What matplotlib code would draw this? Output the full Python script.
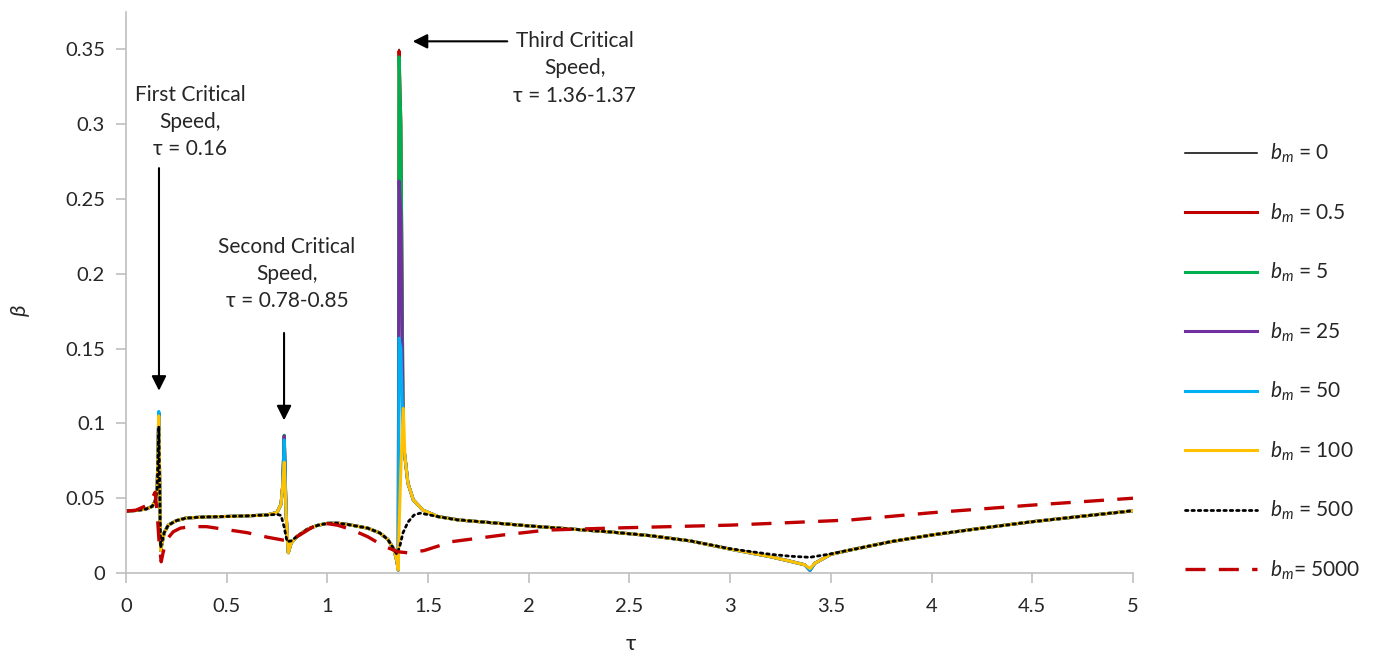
import matplotlib
matplotlib.use("Agg")
import matplotlib.pyplot as plt

# fonts: Lato first, fallbacks for greek glyphs
plt.rcParams["font.family"] = ["Lato", "Open Sans", "DejaVu Sans"]
plt.rcParams["mathtext.fontset"] = "custom"
plt.rcParams["mathtext.it"] = "Lato:italic"
plt.rcParams["mathtext.rm"] = "Lato"

# grid shared by the curves bm = 0 ... 100 (they coincide away from the resonances)
TAU_SHARED = [0.00, 0.05, 0.10, 0.13, 0.145, 0.155, 0.172, 0.19, 0.21, 0.25, 0.30,
              0.40, 0.50, 0.60, 0.70, 0.75, 0.77, 0.778, 0.795, 0.806, 0.82,
              0.85, 0.90, 0.95, 1.00, 1.05, 1.10, 1.20, 1.26, 1.30, 1.33,
              1.345, 1.352, 1.385, 1.40, 1.427, 1.475, 1.55, 1.65, 1.80, 2.00, 2.20,
              2.40, 2.60, 2.80, 3.00, 3.20, 3.30, 3.37, 3.42, 3.50, 3.60,
              3.80, 4.00, 4.25, 4.50, 4.75, 5.00]
B_SHARED = [0.0414, 0.0418, 0.0428, 0.0445, 0.048, 0.056, 0.015, 0.027, 0.032, 0.035, 0.0368,
            0.0375, 0.0378, 0.0382, 0.0388, 0.0405, 0.046, 0.058, 0.040, 0.0136, 0.020,
            0.0245, 0.0292, 0.0318, 0.0332, 0.0333, 0.0325, 0.0300, 0.0268, 0.0225, 0.016,
            0.008, 0.002, 0.078, 0.060, 0.0488, 0.042, 0.0377, 0.0355, 0.0338, 0.0315, 0.0295,
            0.0275, 0.0250, 0.0215, 0.0160, 0.0109, 0.0078, 0.0055, 0.0065, 0.0125, 0.0155,
            0.021, 0.0254, 0.030, 0.0343, 0.038, 0.0416]

# values at the resonance points, one list per bm
RES_TAU = [0.163, 0.786, 1.356, 1.365, 1.377, 3.396]
RES_B_0 = [0.107, 0.092, 0.350, 0.300, 0.085, 0.0018]
RES_B_05 = [0.107, 0.092, 0.349, 0.300, 0.085, 0.0018]
RES_B_5 = [0.107, 0.092, 0.345, 0.300, 0.085, 0.0018]
RES_B_25 = [0.107, 0.0915, 0.262, 0.240, 0.085, 0.0018]
RES_B_50 = [0.108, 0.089, 0.157, 0.150, 0.085, 0.0018]
RES_B_100 = [0.105, 0.074, 0.030, 0.070, 0.110, 0.003]

TAU_500 = [0.00, 0.05, 0.10, 0.13, 0.145, 0.155, 0.163, 0.172, 0.19, 0.21, 0.25,
           0.30, 0.40, 0.50, 0.60, 0.70, 0.75, 0.77, 0.785, 0.80, 0.82,
           0.85, 0.90, 0.95, 1.00, 1.05, 1.10, 1.20, 1.26, 1.30, 1.33,
           1.345, 1.36, 1.375, 1.40, 1.43, 1.46, 1.50, 1.55, 1.65, 1.80,
           2.00, 2.20, 2.40, 2.60, 2.80, 3.00, 3.20, 3.30, 3.396, 3.50,
           3.60, 3.80, 4.00, 4.25, 4.50, 4.75, 5.00]
B_500 = [0.0414, 0.0418, 0.0428, 0.0445, 0.048, 0.056, 0.098, 0.017, 0.027, 0.032, 0.035,
         0.0368, 0.0375, 0.0378, 0.0382, 0.0388, 0.0392, 0.0385, 0.031, 0.021, 0.0215,
         0.0245, 0.0292, 0.0318, 0.0332, 0.0333, 0.0325, 0.0300, 0.0268, 0.0225, 0.016,
         0.0125, 0.018, 0.0267, 0.034, 0.0387, 0.040, 0.039, 0.0377, 0.0355, 0.0338,
         0.0315, 0.0295, 0.0275, 0.0250, 0.0215, 0.0162, 0.0125, 0.0112, 0.0105, 0.0128,
         0.0155, 0.021, 0.0254, 0.030, 0.0343, 0.038, 0.0416]

TAU_5000 = [0.00, 0.05, 0.10, 0.13, 0.145, 0.155, 0.165, 0.175, 0.185, 0.20,
            0.235, 0.27, 0.32, 0.40, 0.50, 0.60, 0.70, 0.78, 0.82, 0.87,
            0.93, 1.00, 1.05, 1.12, 1.20, 1.28, 1.35, 1.40, 1.48, 1.62,
            1.87, 2.09, 2.40, 2.70, 3.00, 3.40, 3.60, 4.00, 4.50, 5.00]
B_5000 = [0.0414, 0.042, 0.045, 0.050, 0.054, 0.040, 0.020, 0.0075, 0.014, 0.022,
          0.0276, 0.030, 0.031, 0.031, 0.029, 0.027, 0.024, 0.022, 0.022, 0.026,
          0.031, 0.033, 0.032, 0.029, 0.0243, 0.018, 0.0142, 0.0135, 0.015, 0.021,
          0.0254, 0.0287, 0.030, 0.031, 0.032, 0.0343, 0.0355, 0.0403, 0.0454, 0.050]

BM_LABELS = ["0", "0.5", "5", "25", "50", "100", "500", "5000"]
COLORS = ["#000000", "#C00000", "#00B050", "#7030A0", "#00B0F0", "#FFC000", "#000000", "#C00000"]

GREY = "#BFBFBF"
TEXT = "#262626"


def merge_resonance(res_b):
    """Put the resonance values into the shared grid, sorted by tau."""
    pts = sorted(list(zip(TAU_SHARED, B_SHARED)) + list(zip(RES_TAU, res_b)))
    return [p[0] for p in pts], [p[1] for p in pts]


fig = plt.figure(figsize=(13.75, 6.56), dpi=100)
ax = fig.add_axes([0.0916, 0.1265, 0.7324, 0.8552])

res_lists = [RES_B_0, RES_B_05, RES_B_5, RES_B_25, RES_B_50, RES_B_100]
handles = []
for i, res_b in enumerate(res_lists):
    t, b = merge_resonance(res_b)
    lw = 1.1 if i == 0 else 2.2
    (h,) = ax.plot(t, b, color=COLORS[i], lw=lw, solid_joinstyle="round")
    handles.append(h)

(h,) = ax.plot(TAU_500, B_500, color=COLORS[6], lw=2.0, linestyle=(0, (0.9, 1.4)),
               dash_capstyle="round")
handles.append(h)
(h,) = ax.plot(TAU_5000, B_5000, color=COLORS[7], lw=2.4, linestyle=(0, (6.0, 4.0)))
handles.append(h)

labels = []
for i, bm in enumerate(BM_LABELS):
    if i == len(BM_LABELS) - 1:
        labels.append(r"$b_m$= " + bm)
    else:
        labels.append(r"$b_m$ = " + bm)

ax.set_xlim(0, 5)
ax.set_ylim(0, 0.375)
ax.set_xticks([0, 0.5, 1, 1.5, 2, 2.5, 3, 3.5, 4, 4.5, 5])
ax.set_xticklabels(["0", "0.5", "1", "1.5", "2", "2.5", "3", "3.5", "4", "4.5", "5"])
ax.set_yticks([0, 0.05, 0.1, 0.15, 0.2, 0.25, 0.3, 0.35])
ax.set_yticklabels(["0", "0.05", "0.1", "0.15", "0.2", "0.25", "0.3", "0.35"])

for side in ["top", "right"]:
    ax.spines[side].set_visible(False)
for side in ["left", "bottom"]:
    ax.spines[side].set_color(GREY)
    ax.spines[side].set_linewidth(1.2)
ax.tick_params(axis="both", direction="out", length=7, width=1.2, color=GREY,
               labelsize=14.5, labelcolor=TEXT)
ax.tick_params(axis="x", pad=11)
ax.tick_params(axis="y", pad=8)

ax.set_xlabel("τ", fontsize=16, color=TEXT)
ax.xaxis.set_label_coords(0.501, -0.108)
ax.set_ylabel("β", fontsize=16, color=TEXT, style="italic")
ax.yaxis.set_label_coords(-0.0953, 0.469)

# critical speed annotations
arrow = dict(arrowstyle="-|>", color="black", lw=1.5, mutation_scale=22)
note = dict(ha="center", va="center", fontsize=15, color=TEXT, linespacing=1.45)

ax.annotate("", xy=(0.164, 0.120), xytext=(0.164, 0.2725), arrowprops=arrow)
ax.text(0.318, 0.3013, "First Critical\nSpeed,\nτ = 0.16", **note)

ax.annotate("", xy=(0.785, 0.1002), xytext=(0.785, 0.1623), arrowprops=arrow)
ax.text(0.80, 0.1997, "Second Critical\nSpeed,\nτ = 0.78-0.85", **note)

ax.annotate("", xy=(1.41, 0.3554), xytext=(1.907, 0.3554), arrowprops=arrow)
ax.text(2.229, 0.3373, "Third Critical\nSpeed,\nτ = 1.36-1.37", **note)

leg = ax.legend(handles, labels, loc="upper left", bbox_to_anchor=(0.8545, 0.7997),
                bbox_transform=fig.transFigure, frameon=False, fontsize=15,
                handlelength=3.46, handletextpad=0.62, labelspacing=1.74, borderpad=0)
for txt in leg.get_texts():
    txt.set_color(TEXT)

fig.savefig("out.png", dpi=100)
